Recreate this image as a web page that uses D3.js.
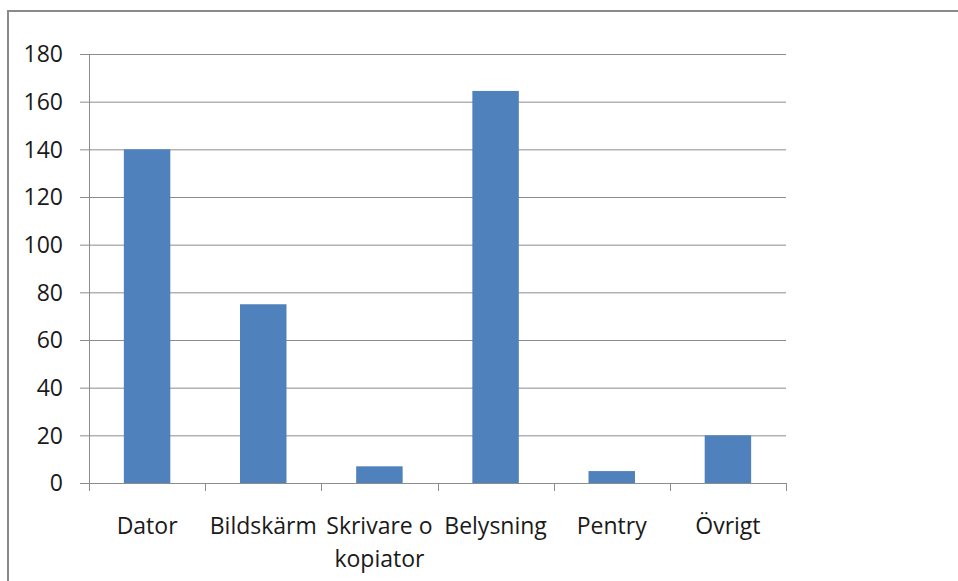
<!DOCTYPE html>
<html><head><meta charset="utf-8">
<script src="https://cdn.jsdelivr.net/npm/d3@7/dist/d3.min.js"></script>
<style>
html,body{margin:0;padding:0;background:#fff;}
svg{display:block;}
text{font-family:"Open Sans",sans-serif;fill:#1a1a1a;}
</style></head>
<body>
<script>
const categories = [["Dator"],["Bildskärm"],["Skrivare o","kopiator"],["Belysning"],["Pentry"],["Övrigt"]];
const values = [140, 75, 7, 164.5, 5, 20];
const yTicks = [0,20,40,60,80,100,120,140,160,180];

const W = 958, H = 581;
const svg = d3.select("body").append("svg").attr("width", W).attr("height", H);

// outer frame
svg.append("rect").attr("x", 8).attr("y", 11).attr("width", 980).attr("height", 600)
  .attr("fill", "#fff").attr("stroke", "#8a8a8a").attr("stroke-width", 2);

const x0 = 89, x1 = 786, yTop = 54, yBot = 483;
const x = d3.scaleBand().domain(d3.range(categories.length)).range([x0, x1])
  .paddingInner(0.6).paddingOuter(0.3);
const xb = d3.scaleBand().domain(d3.range(categories.length)).range([x0, x1]).padding(0);
const y = d3.scaleLinear().domain([0, 180]).range([yBot, yTop]);

// gridlines
svg.append("g").selectAll("line").data(yTicks).join("line")
  .attr("x1", x0 - 9).attr("x2", x1).attr("y1", d => y(d) + 0.5).attr("y2", d => y(d) + 0.5)
  .attr("stroke", "#8c8c8c").attr("stroke-width", 1);

// y axis line
svg.append("line").attr("x1", x0 + 0.5).attr("x2", x0 + 0.5).attr("y1", yTop).attr("y2", yBot)
  .attr("stroke", "#8c8c8c");

// bars
svg.append("g").selectAll("rect").data(values).join("rect")
  .attr("x", (d, i) => x(i)).attr("width", x.bandwidth())
  .attr("y", d => y(d)).attr("height", d => y(0) - y(d))
  .attr("fill", "#4f81bd");

// x axis baseline and ticks
svg.append("line").attr("x1", x0).attr("x2", x1).attr("y1", yBot + 0.5).attr("y2", yBot + 0.5)
  .attr("stroke", "#8c8c8c");
const xt = d3.range(categories.length + 1).map(i => i < categories.length ? xb(i) : x1);
svg.append("g").selectAll("line").data(xt).join("line")
  .attr("x1", d => Math.round(d) + 0.5).attr("x2", d => Math.round(d) + 0.5)
  .attr("y1", yBot).attr("y2", yBot + 8).attr("stroke", "#8c8c8c");

// y labels
svg.append("g").selectAll("text").data(yTicks).join("text")
  .attr("x", 63).attr("y", d => y(d)).attr("dy", "0.36em")
  .attr("text-anchor", "end").attr("font-size", 23).text(d => d);

// x labels
const xl = svg.append("g").selectAll("text").data(categories).join("text")
  .attr("text-anchor", "middle").attr("font-size", 23)
  .attr("x", (d, i) => xb(i) + xb.bandwidth() / 2).attr("y", 534);
xl.selectAll("tspan").data(d => d).join("tspan")
  .attr("x", function() { return d3.select(this.parentNode).attr("x"); })
  .attr("dy", (d, i) => i === 0 ? 0 : 32.5).text(d => d);
</script>
</body></html>
